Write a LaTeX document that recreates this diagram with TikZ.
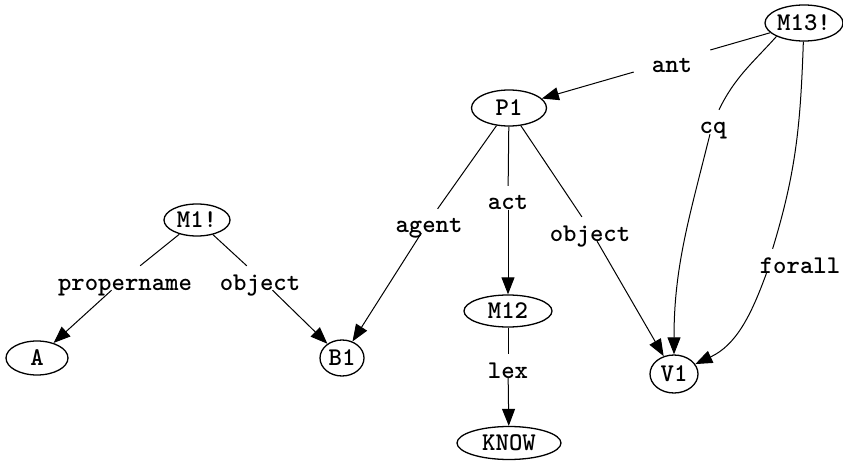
\documentclass[tikz,border=0pt]{standalone}
\usepackage{fontspec}
\usetikzlibrary{arrows.meta,shapes.geometric}
\begin{document}
\begin{tikzpicture}[x=1pt,y=-1pt,
  every node/.style={font=\ttfamily\bfseries\fontsize{25.5}{29}\selectfont},
  ell/.style={draw, ellipse, inner sep=0pt, line width=1.3pt},
  lbl/.style={anchor=base, inner xsep=18pt, inner ysep=0pt, text height=24pt, text depth=0pt},
  edge/.style={line width=1pt},
  arr/.style={edge, -{Triangle[length=17pt,width=13pt]}}]
\useasboundingbox (0,0) rectangle (843,465);
% nodes
\node[ell, minimum width=78pt, minimum height=36pt] (M13) at (804,23) {M13!};
\node[ell, minimum width=75pt, minimum height=36pt] (P1) at (509,108) {P1};
\node[ell, minimum width=66pt, minimum height=32pt] (M1) at (197,220) {M1!};
\node[ell, minimum width=62pt, minimum height=34pt] (A) at (37,358) {A};
\node[ell, minimum width=44pt, minimum height=36pt] (B1) at (342,358) {B1};
\node[ell, minimum width=88pt, minimum height=32pt] (M12) at (508,311) {M12};
\node[ell, minimum width=104pt, minimum height=33pt] (KNOW) at (509,443) {KNOW};
\node[ell, minimum width=48pt, minimum height=38pt] (V1) at (674,374) {V1};
% labels
\node[lbl] (ant) at (672,73) {ant};
\node[lbl] (cq) at (713,134) {cq};
\node[lbl] (forall) at (800,273) {forall};
\node[lbl] (agent) at (429,233) {agent};
\node[lbl] (act) at (508,210) {act};
\node[lbl] (objP) at (590,241) {object};
\node[lbl] (propername) at (125,290) {propername};
\node[lbl] (objM) at (260,290) {object};
\node[lbl] (lex) at (508,378) {lex};
% edges
\draw[edge] (M13) -- (ant);
\draw[arr] (ant) -- (P1);
\draw[edge] (M13.-154) to[out=-132,in=64] (cq);
\draw[arr] (cq) to[out=-104,in=90] (V1);
\draw[edge] (M13) to[out=-92,in=73] (forall.156);
\draw[arr] (forall.-160) to[out=-110,in=25] (V1);
\draw[edge] (P1) -- (agent);
\draw[arr] (agent) -- (B1);
\draw[edge] (P1) -- (act);
\draw[arr] (act) -- (M12);
\draw[edge] (P1) -- (objP);
\draw[arr] (objP) -- (V1);
\draw[edge] (M1) -- (propername);
\draw[arr] (propername) -- (A);
\draw[edge] (M1) -- (objM);
\draw[arr] (objM) -- (B1);
\draw[edge] (M12) -- (lex);
\draw[arr] (lex) -- (KNOW);
\end{tikzpicture}
\end{document}
